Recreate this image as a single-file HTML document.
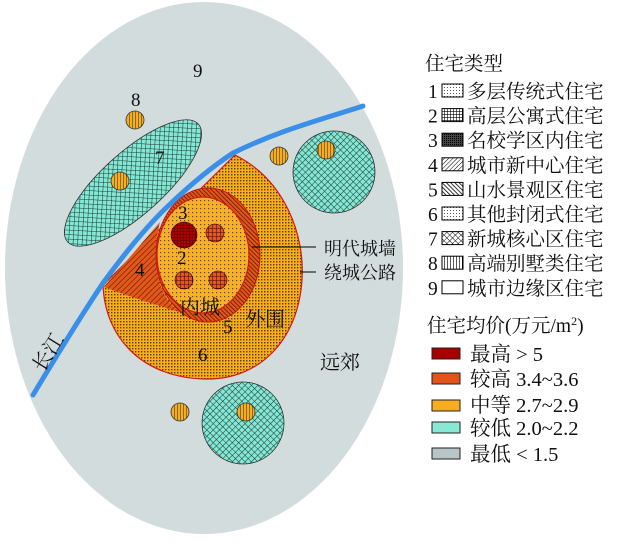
<!DOCTYPE html>
<html><head><meta charset="utf-8"><style>
html,body{margin:0;padding:0;background:#fff;}
svg text{font-family:"Liberation Serif","Noto Serif CJK SC","Noto Sans CJK SC",serif;fill:#111;}
</style></head><body>
<svg width="630" height="547" viewBox="0 0 630 547" xmlns="http://www.w3.org/2000/svg">
<defs>
<pattern id="dots" width="3" height="3" patternUnits="userSpaceOnUse"><rect width="3" height="3" fill="#f6ad1e"/><rect width="1.4" height="1.4" fill="#5a3a00"/></pattern>
<pattern id="dotsInner" width="4" height="4" patternUnits="userSpaceOnUse"><rect width="4" height="4" fill="#f7b126"/><rect width="1.2" height="1.2" fill="#6b4500"/></pattern>
<pattern id="grid" width="4" height="4" patternUnits="userSpaceOnUse"><rect width="4" height="4" fill="#e4571a"/><path d="M0 0H4M0 0V4" stroke="#400" stroke-width="1"/></pattern>
<pattern id="grid3" width="3" height="3" patternUnits="userSpaceOnUse"><rect width="3" height="3" fill="#b00000"/><path d="M0 0H3M0 0V3" stroke="#300" stroke-width="0.8"/></pattern>
<pattern id="hatch" width="4" height="4" patternUnits="userSpaceOnUse" patternTransform="rotate(45)"><rect width="4" height="4" fill="#e4571a"/><path d="M0 0V4" stroke="#5a1a00" stroke-width="1.2"/></pattern>
<pattern id="hatch5" width="3" height="3" patternUnits="userSpaceOnUse" patternTransform="rotate(-45)"><rect width="3" height="3" fill="#e4571a"/><path d="M0 0V3" stroke="#4a1000" stroke-width="1.4"/></pattern>
<pattern id="cross" width="4.5" height="4.5" patternUnits="userSpaceOnUse" patternTransform="rotate(45)"><rect width="4.5" height="4.5" fill="#85e8d5"/><path d="M0 0H4.5M0 0V4.5" stroke="#1c3a35" stroke-width="1.1"/></pattern>
<pattern id="vstripe" width="3" height="3" patternUnits="userSpaceOnUse"><rect width="3" height="3" fill="#f6ad1e"/><path d="M0 0V3" stroke="#222" stroke-width="1"/></pattern>
<pattern id="ldots" width="3" height="3" patternUnits="userSpaceOnUse"><rect width="3" height="3" fill="#fff"/><rect width="1" height="1" fill="#555"/></pattern>
<pattern id="lgrid" width="3" height="3" patternUnits="userSpaceOnUse"><rect width="3" height="3" fill="#fff"/><path d="M0 0H3M0 0V3" stroke="#000" stroke-width="1.2"/></pattern>
<pattern id="lgrid3" width="2" height="2" patternUnits="userSpaceOnUse"><rect width="2" height="2" fill="#444"/><rect width="1" height="1" fill="#000"/></pattern>
<pattern id="ldiag" width="3" height="3" patternUnits="userSpaceOnUse" patternTransform="rotate(45)"><rect width="3" height="3" fill="#fff"/><path d="M0 0V3" stroke="#000" stroke-width="1"/></pattern>
<pattern id="ldiag2" width="3" height="3" patternUnits="userSpaceOnUse" patternTransform="rotate(-45)"><rect width="3" height="3" fill="#fff"/><path d="M0 0V3" stroke="#000" stroke-width="1.6"/></pattern>
<pattern id="lcross" width="4" height="4" patternUnits="userSpaceOnUse" patternTransform="rotate(45)"><rect width="4" height="4" fill="#fff"/><path d="M0 0H4M0 0V4" stroke="#000" stroke-width="0.9"/></pattern>
<pattern id="lv" width="3" height="3" patternUnits="userSpaceOnUse"><rect width="3" height="3" fill="#fff"/><path d="M0 0V3" stroke="#000" stroke-width="1.3"/></pattern>
</defs>

<ellipse cx="204" cy="268" rx="199" ry="266" fill="#d3dcdd"/>

<ellipse cx="133" cy="183" rx="88" ry="31" transform="rotate(-42 133 183)" fill="url(#cross)" stroke="#333" stroke-width="0.8"/>
<circle cx="334" cy="172" r="41" fill="url(#cross)" stroke="#333" stroke-width="0.8"/>
<circle cx="243" cy="423" r="41" fill="url(#cross)" stroke="#333" stroke-width="0.8"/>

<path d="M103,285 L235,155 C285,180 305,235 302,280 C298,340 260,380 205,379 C145,378 105,340 103,285Z" fill="url(#dots)" stroke="#d21a1a" stroke-width="1.2"/>
<path d="M104,287 L160,222 C150,260 158,300 182,313 C150,303 125,295 104,287Z" fill="url(#hatch)"/>
<ellipse cx="208" cy="255" rx="52" ry="67" fill="url(#hatch5)" stroke="#c01515" stroke-width="1"/>
<ellipse cx="203" cy="255" rx="46" ry="58" fill="url(#dotsInner)" stroke="#d21a1a" stroke-width="1.2"/>

<path d="M33,395 C60,350 85,310 103,283 C125,253 145,228 167,207 C190,185 210,168 233,153 C280,130 320,120 363,106" fill="none" stroke="#3a8fe8" stroke-width="5" stroke-linecap="round"/>

<circle cx="184" cy="235" r="13" fill="url(#grid3)" stroke="#300" stroke-width="0.6"/>
<circle cx="215" cy="233" r="9" fill="url(#grid)" stroke="#400" stroke-width="0.6"/>
<circle cx="184" cy="280" r="9" fill="url(#grid)" stroke="#400" stroke-width="0.6"/>
<circle cx="218" cy="280" r="9" fill="url(#grid)" stroke="#400" stroke-width="0.6"/>

<g fill="url(#vstripe)" stroke="#333" stroke-width="0.8">
<circle cx="135" cy="120" r="9"/><circle cx="120" cy="181" r="9"/><circle cx="279" cy="156" r="9"/>
<circle cx="326" cy="150" r="9"/><circle cx="180" cy="412" r="9"/><circle cx="246" cy="412" r="9"/>
</g>

<line x1="252" y1="247" x2="316" y2="247" stroke="#000" stroke-width="1"/>
<line x1="300" y1="272" x2="316" y2="272" stroke="#000" stroke-width="1"/>

<g font-size="19">
<text x="193" y="77">9</text>
<text x="131" y="106">8</text>
<text x="155" y="164">7</text>
<text x="178" y="219">3</text>
<text x="177" y="264">2</text>
<text x="135" y="276">4</text>
<text x="180" y="314" font-size="20">内城</text>
<text x="223" y="333">5</text>
<text x="245" y="326" font-size="20">外围</text>
<text x="198" y="361">6</text>
<text x="320" y="369" font-size="20">远郊</text>
<text x="30" y="367" font-size="20" transform="rotate(-58 42 358)">长江</text>
<text x="324" y="255" font-size="18">明代城墙</text>
<text x="324" y="279" font-size="18">绕城公路</text>
</g>

<g font-size="19.5">
<text x="425" y="70">住宅类型</text>
<g stroke="#000" stroke-width="1">
<rect x="442" y="84" width="21" height="13" fill="url(#ldots)"/>
<rect x="442" y="108.6" width="21" height="13" fill="url(#lgrid)"/>
<rect x="442" y="133.2" width="21" height="13" fill="url(#lgrid3)"/>
<rect x="442" y="157.8" width="21" height="13" fill="url(#ldiag)"/>
<rect x="442" y="182.4" width="21" height="13" fill="url(#ldiag2)"/>
<rect x="442" y="207" width="21" height="13" fill="url(#ldots)"/>
<rect x="442" y="231.6" width="21" height="13" fill="url(#lcross)"/>
<rect x="442" y="256.2" width="21" height="13" fill="url(#lv)"/>
<rect x="442" y="280.8" width="21" height="13" fill="#fff"/>
</g>
<text x="428" y="98">1</text><text x="467" y="98">多层传统式住宅</text>
<text x="428" y="122.6">2</text><text x="467" y="122.6">高层公寓式住宅</text>
<text x="428" y="147.2">3</text><text x="467" y="147.2">名校学区内住宅</text>
<text x="428" y="171.8">4</text><text x="467" y="171.8">城市新中心住宅</text>
<text x="428" y="196.4">5</text><text x="467" y="196.4">山水景观区住宅</text>
<text x="428" y="221">6</text><text x="467" y="221">其他封闭式住宅</text>
<text x="428" y="245.6">7</text><text x="467" y="245.6">新城核心区住宅</text>
<text x="428" y="270.2">8</text><text x="467" y="270.2">高端别墅类住宅</text>
<text x="428" y="294.8">9</text><text x="467" y="294.8">城市边缘区住宅</text>

<text x="427" y="332">住宅均价(万元/m<tspan font-size="12" dy="-7">2</tspan><tspan dy="7">)</tspan></text>
<g stroke="#222" stroke-width="1">
<rect x="432" y="348" width="28" height="11" fill="#a80000"/>
<rect x="432" y="373" width="28" height="11" fill="#e4541a"/>
<rect x="432" y="400" width="28" height="11" fill="#f6ae1e"/>
<rect x="432" y="422" width="28" height="11" fill="#88e8d6"/>
<rect x="432" y="448" width="28" height="11" fill="#b8c4c6"/>
</g>
<g font-size="20.5">
<text x="470" y="361">最高 &gt; 5</text>
<text x="470" y="386">较高 3.4~3.6</text>
<text x="470" y="412">中等 2.7~2.9</text>
<text x="470" y="435">较低 2.0~2.2</text>
<text x="470" y="461">最低 &lt; 1.5</text>
</g>
</g>
</svg>
</body></html>
